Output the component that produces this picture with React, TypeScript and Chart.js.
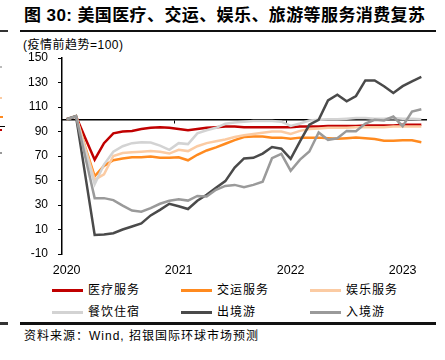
import React, { useEffect, useRef } from "react";
import { Chart, registerables } from "chart.js";
Chart.register(...registerables);

const months = [
  "2020-01","2020-02","2020-03","2020-04","2020-05","2020-06","2020-07","2020-08","2020-09","2020-10","2020-11","2020-12",
  "2021-01","2021-02","2021-03","2021-04","2021-05","2021-06","2021-07","2021-08","2021-09","2021-10","2021-11","2021-12",
  "2022-01","2022-02","2022-03","2022-04","2022-05","2022-06","2022-07","2022-08","2022-09","2022-10","2022-11","2022-12",
  "2023-01","2023-02","2023-03",
];

const seriesNames = ["医疗服务", "交运服务", "娱乐服务", "餐饮住宿", "出境游", "入境游"];

const medical = [100,102.5,84.5,67,80.5,88.5,90,90.5,92,93,93.5,93,92,91,92,93,93.5,94,94,93.5,93.5,93.5,93.5,93.5,93.5,94,94,94,94.5,94.5,94.5,94.5,95,95,95,95,95.5,95.5,95.5];
const transport = [100,102.5,77,53.5,62,66.5,68,69,69,69.5,68.5,68.5,69,66.5,71,74.5,77,80,83,85.5,86,86,85,85,84,85,85,85,84.5,84,84.5,85,84.5,83.8,82.5,82.5,82.8,82.8,81.3];
const entertainment = [100,102.5,76,50.5,55,70,72.5,73,73.5,74,73.5,72,75,74,78,80.5,82,83.5,85.5,87,88,89,90,90,88,90.5,92,92.5,93,93,93,93.5,93.5,93.5,93.5,94,94,94,94];
const dining = [100,102.5,74,47,63,73.5,78,80.5,81.3,81,78.5,75,80.5,79.7,88.5,91,93,96.3,97.4,98,98.5,98.5,98.5,98,94.5,96.5,99,99.5,100,100,100.5,101,101,100.5,100.5,101,100.5,100.5,100];
const outbound = [100,102.5,54,5.6,6,7,10,12.5,15,21.5,26,31,29,26.7,33.5,38.3,44,49.5,60.5,68,68.5,72,77.3,76,67.7,82,95.5,99.6,115.4,120,114.7,119,131.7,131.7,127,121.5,127,131,134.5];
const inbound = [100,102.5,69,35.6,35.6,34,29.5,25.5,24.5,27.5,31,33.5,34.7,33.6,37.4,37,42.4,45.6,46.4,44.5,46.4,49,68.2,71.8,58,67,73.7,89.2,83.2,84.5,90.5,90.3,96.5,99.5,99,102.2,94.3,106.3,108.2];

const yMin = -10;
const yMax = 150;
const yStep = 20;
const baseline = 100;

const colors = ["#C00000", "#FF8A1F", "#FBCBA3", "#D3D3D3", "#4A4A4A", "#9A9A9A"];
const allSeries = [medical, transport, entertainment, dining, outbound, inbound];

const FONT = '"Liberation Sans", "Noto Sans CJK SC", sans-serif';

function ChartCanvas() {
  const ref = useRef<HTMLCanvasElement | null>(null);
  useEffect(() => {
    if (!ref.current) return;
    const chart = new Chart(ref.current, {
      type: "line",
      data: {
        labels: months,
        datasets: allSeries.map((d, i) => ({
          label: seriesNames[i],
          data: d,
          borderColor: colors[i],
          backgroundColor: colors[i],
          borderWidth: 2.5,
          pointRadius: 0,
          tension: 0,
          fill: false,
          order: allSeries.length - i,
        })),
      },
      options: {
        animation: false,
        responsive: false,
        devicePixelRatio: 1,
        layout: { padding: { top: 58, left: 0, right: 19, bottom: 0 } },
        plugins: { legend: { display: false }, tooltip: { enabled: false }, title: { display: false } },
        scales: {
          x: {
            type: "category",
            offset: true,
            border: { display: false },
            grid: { display: false, drawTicks: false, offset: true },
            ticks: {
              autoSkip: false,
              maxRotation: 0,
              minRotation: 0,
              padding: 9,
              color: "#000",
              font: { family: FONT, size: 12.5 },
              callback: (_v: any, idx: number) => (months[idx].endsWith("-01") ? months[idx].slice(0, 4) : ""),
            },
            afterFit: (s: any) => { s.height = 26; },
          },
          x2: {
            type: "category",
            position: { y: baseline } as any,
            offset: true,
            border: { display: true, color: "#000", width: 1.5 },
            grid: {
              offset: true,
              drawOnChartArea: false,
              drawTicks: true,
              tickLength: 3,
              lineWidth: 1,
              color: (ctx: any) => (ctx.index > 0 && ctx.index % 12 === 0 ? "#000" : "rgba(0,0,0,0)"),
            },
            ticks: { display: false, autoSkip: false },
          },
          y: {
            type: "linear",
            min: yMin,
            max: yMax,
            border: { display: true, color: "#000", width: 1.5 },
            grid: { drawOnChartArea: false, drawTicks: true, tickLength: 4, color: "#000", lineWidth: 1 },
            ticks: { stepSize: yStep, padding: 10, color: "#000", font: { family: FONT, size: 12 } },
            afterFit: (s: any) => { s.width = 62; },
          },
        },
      } as any,
    });
    return () => chart.destroy();
  }, []);
  return <canvas ref={ref} width={445} height={280} style={{ position: "absolute", left: 0, top: 0, width: 445, height: 280 }} />;
}

const legendRows = [
  { cy: 290, items: [0, 1, 2] },
  { cy: 312, items: [3, 4, 5] },
];
const legendCols = [52, 181, 310];

export default function App() {
  return (
    <div style={{ position: "absolute", left: 0, top: 0, width: 445, height: 360, background: "#fff", overflow: "hidden", fontFamily: FONT, color: "#000" }}>
      <div style={{ position: "absolute", left: 24, top: 6, fontSize: 17, lineHeight: "20px", fontWeight: 700, letterSpacing: 0.4, whiteSpace: "nowrap" }}>
        图 30: 美国医疗、交运、娱乐、旅游等服务消费复苏
      </div>
      <div style={{ position: "absolute", left: 0, top: 30, width: 8, height: 2, background: "#333" }} />
      <div style={{ position: "absolute", left: 20, top: 30, width: 416, height: 2, background: "#111" }} />
      <div style={{ position: "absolute", left: 23, top: 38, fontSize: 12, lineHeight: "14px", letterSpacing: 0.5, whiteSpace: "nowrap" }}>
        (疫情前趋势=100)
      </div>
      {/* stray edge marks */}
      <div style={{ position: "absolute", left: 0, top: 66, width: 2, height: 2, background: "#bbb" }} />
      <div style={{ position: "absolute", left: 0, top: 97, width: 2, height: 2, background: "#FBCBA3" }} />
      <div style={{ position: "absolute", left: 0, top: 116, width: 3, height: 2, background: "#FF8A1F" }} />
      <div style={{ position: "absolute", left: 0, top: 126, width: 5, height: 1, background: "#000" }} />
      <div style={{ position: "absolute", left: 0, top: 129, width: 2, height: 2, background: "#C00000" }} />
      <div style={{ position: "absolute", left: 0, top: 152, width: 2, height: 2, background: "#999" }} />
      <ChartCanvas />
      {legendRows.map((row) =>
        row.items.map((si, ci) => (
          <React.Fragment key={si}>
            <div style={{ position: "absolute", left: legendCols[ci], top: row.cy - 1.5, width: 31, height: 3, background: colors[si] }} />
            <div style={{ position: "absolute", left: legendCols[ci] + 36, top: row.cy - 8, fontSize: 12, lineHeight: "16px", letterSpacing: 1, whiteSpace: "nowrap" }}>
              {seriesNames[si]}
            </div>
          </React.Fragment>
        ))
      )}
      <div style={{ position: "absolute", left: 0, top: 322, width: 8, height: 3, background: "#333" }} />
      <div style={{ position: "absolute", left: 20, top: 322, width: 416, height: 3, background: "#111" }} />
      <div style={{ position: "absolute", left: 24, top: 328, fontSize: 12, lineHeight: "16px", letterSpacing: 1, whiteSpace: "nowrap" }}>
        资料来源：Wind, 招银国际环球市场预测
      </div>
    </div>
  );
}
